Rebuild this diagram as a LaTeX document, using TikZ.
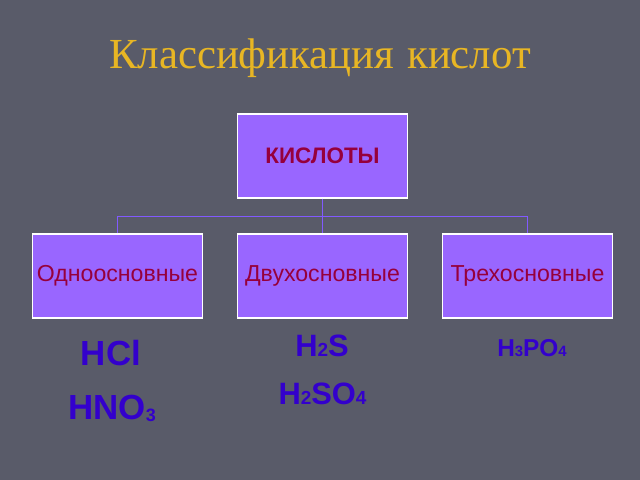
\documentclass[tikz,border=0pt]{standalone}
\usepackage{fontspec}
\setmainfont{Liberation Serif}
\newfontfamily\boxfont{Liberation Sans}
\definecolor{bg}{RGB}{89,91,105}
\definecolor{boxfill}{RGB}{153,102,255}
\definecolor{boxtext}{RGB}{150,0,60}
\definecolor{formula}{RGB}{51,0,204}
\definecolor{titlecol}{RGB}{232,182,36}
\definecolor{linkcol}{RGB}{130,90,255}
\newcommand{\dg}[1]{{\fontsize{19}{19}\selectfont #1}}
\newcommand{\dgb}[1]{{\fontsize{18}{18}\selectfont #1}}
\newcommand{\dgs}[1]{{\fontsize{15}{15}\selectfont #1}}
\begin{document}
\begin{tikzpicture}[x=1bp,y=-1bp,
  catbox/.style={draw=white, line width=1.5bp, fill=boxfill, minimum width=170bp, minimum height=84bp, inner sep=0pt, text=boxtext, font=\boxfont\fontsize{23.2}{23.2}\selectfont},
  rootbox/.style={catbox, font=\boxfont\bfseries\fontsize{22.5}{22.5}\selectfont},
  link/.style={draw=linkcol, line width=1bp},
  formulabig/.style={text=formula, inner sep=0pt, font=\boxfont\bfseries\fontsize{35}{35}\selectfont},
  formulamid/.style={text=formula, inner sep=0pt, font=\boxfont\bfseries\fontsize{31}{31}\selectfont},
  formulasmall/.style={text=formula, inner sep=0pt, font=\boxfont\bfseries\fontsize{24.5}{24.5}\selectfont},
  titletext/.style={text=titlecol, inner sep=0pt, font=\fontsize{43}{43}\selectfont}]
\fill[bg] (0,0) rectangle (640,480);
\useasboundingbox (0,0) rectangle (640,480);
\node[titletext] (title) at (320,58) {Классификация\hspace{0.3em}кислот};
\node[rootbox] (root) at (322.5,156) {КИСЛОТЫ};
\node[catbox] (c1) at (117.5,276) {Одноосновные};
\node[catbox] (c2) at (322.5,276) {Двухосновные};
\node[catbox] (c3) at (527.5,276) {Трехосновные};
\coordinate (j) at (322.5,216.5);
\draw[link] (root.south) -- (j);
\draw[link] (j) -| (c1.north);
\draw[link] (j) -| (c2.north);
\draw[link] (j) -| (c3.north);
\node[formulabig] (hcl) at (111,353) {HCl};
\node[formulabig] (hno3) at (112,408) {HNO\raisebox{-2bp}{\dgb{3}}};
\node[formulamid] (h2s) at (322,346) {H\dg{2}S};
\node[formulamid] (h2so4) at (322.5,394) {H\dg{2}SO\dg{4}};
\node[formulasmall] (h3po4) at (532,348) {H\dgs{3}PO\dgs{4}};
\end{tikzpicture}
\end{document}
